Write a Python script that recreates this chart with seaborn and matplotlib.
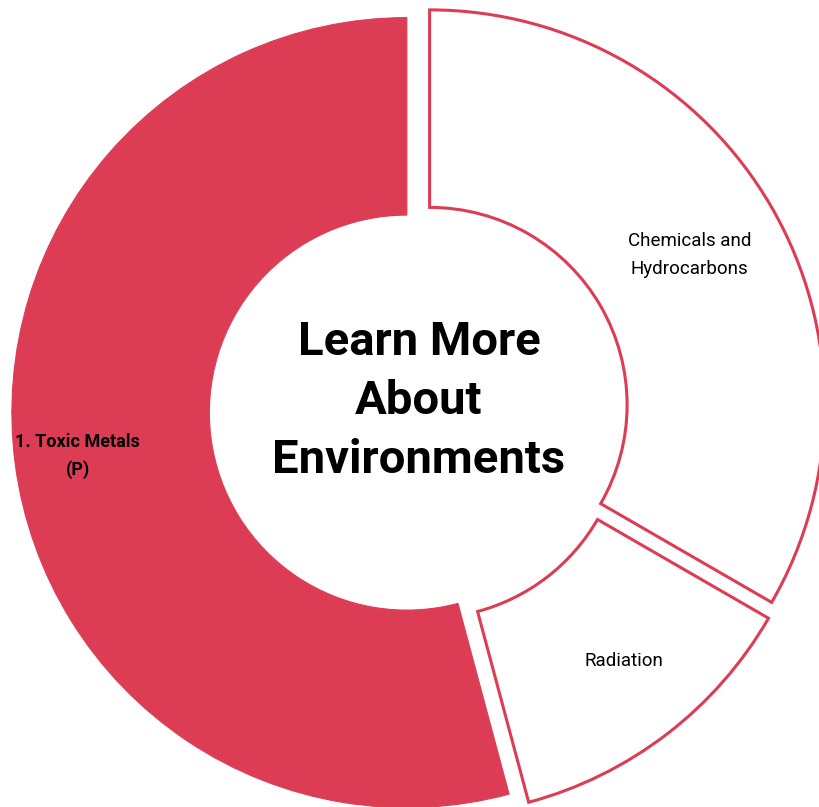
import matplotlib
matplotlib.use("Agg")
import matplotlib.pyplot as plt
import seaborn as sns
import numpy as np

# ---- data ----
categories = ["1. Toxic Metals\n(P)", "Radiation", "Chemicals and\nHydrocarbons"]
values = [13, 3, 8]
highlighted = [True, False, False]
center_title = "Learn More\nAbout\nEnvironments"

sns.set_theme(style="white")
plt.rcParams['font.family'] = ['Roboto', 'DejaVu Sans']

RED = "#DC3D54"
fig = plt.figure(figsize=(8.19, 8.07), dpi=100)
ax = fig.add_axes([0, 0, 1, 1])

wedges, _ = ax.pie(values, startangle=90, counterclock=True, radius=1.0,
                   explode=[0.031] * len(values),
                   wedgeprops=dict(width=0.5, linewidth=2.2, joinstyle='miter'))

label_dist = [0.84, 0.788, 0.76]
label_angle_shift = [0.0, 2.0, 0.0]
for w, lab, hi, d, da in zip(wedges, categories, highlighted, label_dist, label_angle_shift):
    if hi:
        w.set_facecolor(RED)
        w.set_edgecolor(RED)
        w.set_linewidth(0.8)
    else:
        w.set_facecolor("white")
        w.set_edgecolor(RED)
    mid = np.deg2rad((w.theta1 + w.theta2) / 2 + da)
    cx, cy = w.center
    ax.text(cx + d * w.r * np.cos(mid), cy + d * w.r * np.sin(mid), lab,
            ha="center", va="center", fontsize=13.5 if not hi else 13,
            fontweight="bold" if hi else "normal", color="black",
            linespacing=1.68)

ax.text(0, 0.025, center_title, ha="center", va="center", fontsize=34,
        fontweight="bold", color="black", linespacing=1.42)

ax.set_xlim(-1.0608, 1.0127)
ax.set_ylim(-1.0025, 1.0405)
ax.set_aspect("auto")
ax.axis("off")

fig.savefig("out.png", dpi=100, facecolor="white")
